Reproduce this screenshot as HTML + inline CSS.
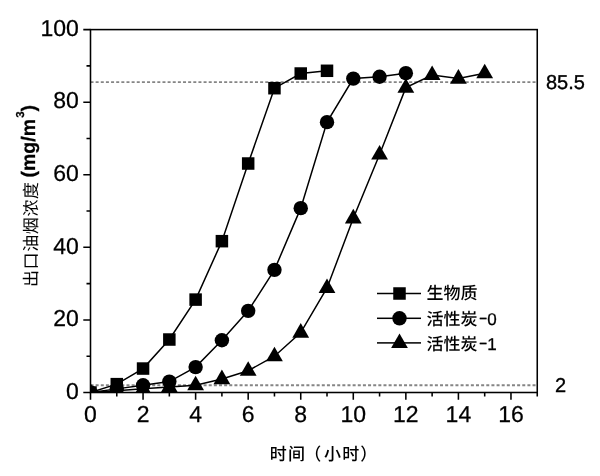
<!DOCTYPE html>
<html lang="zh-CN">
<head>
<meta charset="utf-8">
<title>出口油烟浓度</title>
<style>
html,body{margin:0;padding:0;background:#fff;}
body{width:600px;height:476px;overflow:hidden;}
svg{display:block;}
text{font-family:"Liberation Sans", "Noto Sans CJK SC", sans-serif;fill:#000;text-rendering:geometricPrecision;}
.tick{font-size:23px;stroke:#000;stroke-width:0.25px;}
.rl{font-size:20px;stroke:#000;stroke-width:0.35px;}
.lab{font-size:17px;font-weight:500;letter-spacing:1.1px;}
.ylab{font-size:17px;font-weight:400;letter-spacing:0.6px;}
.bold{font-weight:bold;font-size:19.5px;letter-spacing:0;stroke:#000;stroke-width:0.25px;}
.sup{font-size:11.5px;}
.leg{font-size:17px;font-weight:500;}
.hw{font-weight:normal;stroke:#000;stroke-width:0.3px;}
</style>
</head>
<body>
<svg width="600" height="476" viewBox="0 0 600 476">
<rect width="600" height="476" fill="#fff"/>
<defs><clipPath id="plot"><rect x="90.5" y="29.6" width="458.75" height="362.90"/></clipPath></defs>
<line x1="90.5" x2="537.25" y1="82.22" y2="82.22" stroke="#858585" stroke-width="1.8" stroke-dasharray="3 2.14"/>
<line x1="90.5" x2="537.25" y1="385.24" y2="385.24" stroke="#858585" stroke-width="1.8" stroke-dasharray="3 2.14"/>
<g clip-path="url(#plot)">
<polyline points="90.50,392.50 116.78,384.15 143.06,368.55 169.34,339.52 195.62,299.60 221.90,241.17 248.18,163.51 274.46,88.21 300.74,73.51 327.01,70.79" fill="none" stroke="#000" stroke-width="1.5"/>
<polyline points="90.50,392.50 116.78,388.87 143.06,385.24 169.34,381.61 195.62,367.10 221.90,340.24 248.18,310.85 274.46,269.84 300.74,208.15 327.01,122.14 353.29,78.59 379.57,76.78 405.85,73.15" fill="none" stroke="#000" stroke-width="1.5"/>
<polyline points="90.50,392.50 116.78,390.69 143.06,388.87 169.34,387.06 195.62,385.24 221.90,379.07 248.18,370.73 274.46,356.21 300.74,332.62 327.01,287.98 353.29,218.31 379.57,154.44 405.85,87.66 432.13,74.96 458.41,78.59 484.69,73.15" fill="none" stroke="#000" stroke-width="1.5"/>
<g fill="#000">
<rect x="84.25" y="386.25" width="12.5" height="12.5"/>
<rect x="110.53" y="377.90" width="12.5" height="12.5"/>
<rect x="136.81" y="362.30" width="12.5" height="12.5"/>
<rect x="163.09" y="333.27" width="12.5" height="12.5"/>
<rect x="189.37" y="293.35" width="12.5" height="12.5"/>
<rect x="215.65" y="234.92" width="12.5" height="12.5"/>
<rect x="241.93" y="157.26" width="12.5" height="12.5"/>
<rect x="268.21" y="81.96" width="12.5" height="12.5"/>
<rect x="294.49" y="67.26" width="12.5" height="12.5"/>
<rect x="320.76" y="64.54" width="12.5" height="12.5"/>
<circle cx="90.50" cy="392.50" r="7.2"/>
<circle cx="116.78" cy="388.87" r="7.2"/>
<circle cx="143.06" cy="385.24" r="7.2"/>
<circle cx="169.34" cy="381.61" r="7.2"/>
<circle cx="195.62" cy="367.10" r="7.2"/>
<circle cx="221.90" cy="340.24" r="7.2"/>
<circle cx="248.18" cy="310.85" r="7.2"/>
<circle cx="274.46" cy="269.84" r="7.2"/>
<circle cx="300.74" cy="208.15" r="7.2"/>
<circle cx="327.01" cy="122.14" r="7.2"/>
<circle cx="353.29" cy="78.59" r="7.2"/>
<circle cx="379.57" cy="76.78" r="7.2"/>
<circle cx="405.85" cy="73.15" r="7.2"/>
<path d="M90.50 383.00L98.90 397.60H82.10Z"/>
<path d="M116.78 381.19L125.18 395.79H108.38Z"/>
<path d="M143.06 379.37L151.46 393.97H134.66Z"/>
<path d="M169.34 377.56L177.74 392.16H160.94Z"/>
<path d="M195.62 375.74L204.02 390.34H187.22Z"/>
<path d="M221.90 369.57L230.30 384.17H213.50Z"/>
<path d="M248.18 361.23L256.58 375.83H239.78Z"/>
<path d="M274.46 346.71L282.86 361.31H266.06Z"/>
<path d="M300.74 323.12L309.14 337.72H292.34Z"/>
<path d="M327.01 278.48L335.41 293.08H318.61Z"/>
<path d="M353.29 208.81L361.69 223.41H344.89Z"/>
<path d="M379.57 144.94L387.97 159.54H371.17Z"/>
<path d="M405.85 78.16L414.25 92.76H397.45Z"/>
<path d="M432.13 65.46L440.53 80.06H423.73Z"/>
<path d="M458.41 69.09L466.81 83.69H450.01Z"/>
<path d="M484.69 63.65L493.09 78.25H476.29Z"/>
</g>
</g>
<rect x="90.5" y="29.6" width="446.75" height="362.90" fill="none" stroke="#000" stroke-width="1.55"/>
<path d="M90.50 392.5v7.2M116.78 392.5v4M143.06 392.5v7.2M169.34 392.5v4M195.62 392.5v7.2M221.90 392.5v4M248.18 392.5v7.2M274.46 392.5v4M300.74 392.5v7.2M327.01 392.5v4M353.29 392.5v7.2M379.57 392.5v4M405.85 392.5v7.2M432.13 392.5v4M458.41 392.5v7.2M484.69 392.5v4M510.97 392.5v7.2M537.25 392.5v4M90.5 392.50h-7.2M90.5 356.21h-4M90.5 319.92h-7.2M90.5 283.63h-4M90.5 247.34h-7.2M90.5 211.05h-4M90.5 174.76h-7.2M90.5 138.47h-4M90.5 102.18h-7.2M90.5 65.89h-4M90.5 29.60h-7.2" stroke="#000" stroke-width="1.55" fill="none"/>
<text class="tick" x="90.50" y="421.6" text-anchor="middle">0</text>
<text class="tick" x="143.06" y="421.6" text-anchor="middle">2</text>
<text class="tick" x="195.62" y="421.6" text-anchor="middle">4</text>
<text class="tick" x="248.18" y="421.6" text-anchor="middle">6</text>
<text class="tick" x="300.74" y="421.6" text-anchor="middle">8</text>
<text class="tick" x="353.29" y="421.6" text-anchor="middle">10</text>
<text class="tick" x="405.85" y="421.6" text-anchor="middle">12</text>
<text class="tick" x="458.41" y="421.6" text-anchor="middle">14</text>
<text class="tick" x="510.97" y="421.6" text-anchor="middle">16</text>
<text class="tick" x="78.8" y="398.70" text-anchor="end">0</text>
<text class="tick" x="78.8" y="326.12" text-anchor="end">20</text>
<text class="tick" x="78.8" y="253.54" text-anchor="end">40</text>
<text class="tick" x="78.8" y="180.96" text-anchor="end">60</text>
<text class="tick" x="78.8" y="108.38" text-anchor="end">80</text>
<text class="tick" x="78.8" y="35.80" text-anchor="end">100</text>
<g fill="#000">
<rect x="377" y="292.75" width="44" height="1.5"/>
<rect x="393.25" y="287.25" width="12.5" height="12.5"/>
<rect x="377" y="317.55" width="44" height="1.5"/>
<circle cx="399.50" cy="318.30" r="7.2"/>
<rect x="377" y="342.15" width="44" height="1.5"/>
<path d="M399.50 333.40L407.90 348.00H391.10Z"/>
</g>
<text class="leg" x="426.4" y="299">生物质</text>
<text class="leg" x="426.4" y="324.5">活性炭<tspan class="hw" dx="1.4" dy="-1.6" textLength="8.8" lengthAdjust="spacingAndGlyphs">-</tspan><tspan class="hw" dx="-0.4" dy="1.6">0</tspan></text>
<text class="leg" x="426.4" y="349.5">活性炭<tspan class="hw" dx="1.4" dy="-1.6" textLength="8.8" lengthAdjust="spacingAndGlyphs">-</tspan><tspan class="hw" dx="-0.4" dy="1.6">1</tspan></text>
<text class="rl" x="546" y="89">85.5</text>
<text class="rl" x="555" y="392">2</text>
<text class="lab" x="269.8" y="460.4">时间<tspan dx="-1.8">（</tspan><tspan dx="1.8">小时）</tspan></text>
<text class="ylab" transform="translate(36.7 287) rotate(-90)">出口油烟浓度<tspan class="bold" x="109.5" y="-1.5">(mg/m</tspan><tspan class="bold sup" x="169.2" y="-12.3">3</tspan><tspan class="bold" y="-1.5">)</tspan></text>
</svg>
</body>
</html>
